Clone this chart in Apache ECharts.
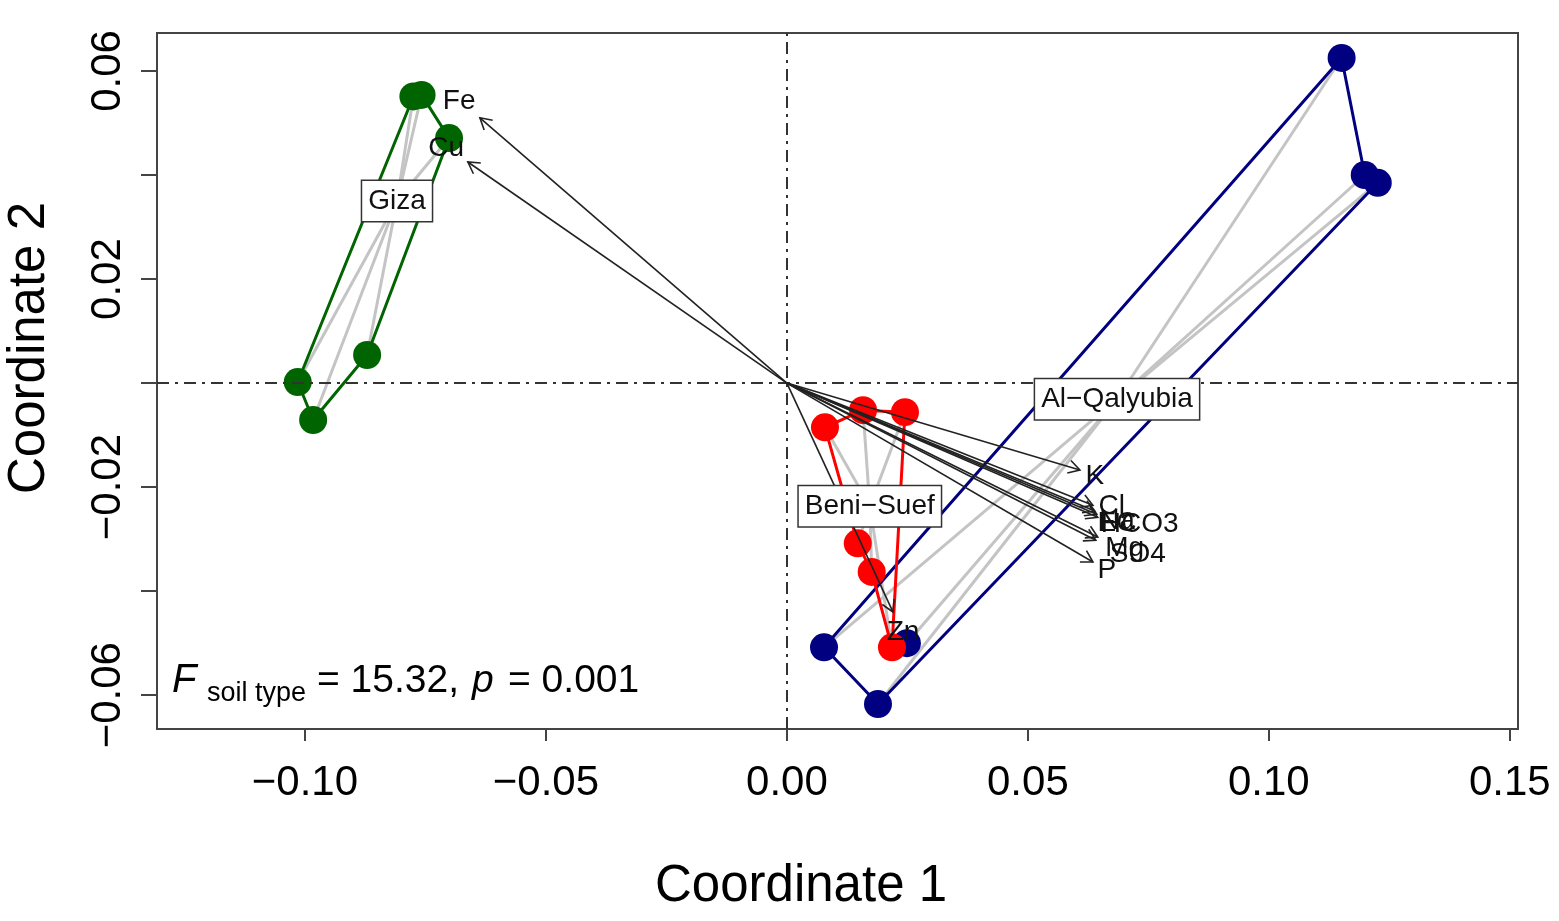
<!DOCTYPE html>
<html>
<head>
<meta charset="utf-8">
<script src="https://cdn.jsdelivr.net/npm/echarts@6/dist/echarts.min.js"></script>
<style>
  html, body { margin: 0; padding: 0; background: #fff; }
  #main { width: 1559px; height: 921px; }
</style>
</head>
<body>
<div id="main"></div>
<script>
// site scores (Coordinate 1, Coordinate 2)
var gizaPts = [[-0.0775, 0.0551], [-0.0758, 0.0554], [-0.0701, 0.0471], [-0.0871, 0.0054], [-0.1015, 0.0002], [-0.0983, -0.0071]];
var beniPts = [[0.0079, -0.0085], [0.0158, -0.0052], [0.0245, -0.0056], [0.0147, -0.0308], [0.0176, -0.0363], [0.0218, -0.0508]];
var qalPts = [[0.1151, 0.0625], [0.1199, 0.0400], [0.1226, 0.0385], [0.0077, -0.0508], [0.0189, -0.0617], [0.0249, -0.0500]];

// hull order (indices into the point arrays)
var gizaHull = [0, 4, 5, 3, 2, 1];
var beniHull = [0, 1, 2, 5, 4, 3];
var qalHull = [3, 0, 1, 2, 4];

// group centroids (spider centres and labels)
var groupNames = ['Giza', 'Beni\u2212Suef', 'Al\u2212Qalyubia'];
var groupCentres = [[-0.0809, 0.0350], [0.0172, -0.0237], [0.0685, -0.0031]];

// fitted soil variables: arrow tips and label positions
var envNames = ['Fe', 'Cu', 'K', 'Cl', 'EC', 'Na', 'HCO3', 'Mg', 'SO4', 'P', 'Zn'];
var envTips = [[-0.0637, 0.0510], [-0.0662, 0.0425], [0.0608, -0.0167], [0.0635, -0.0235], [0.0639, -0.0246],
  [0.0643, -0.0252], [0.0645, -0.0258], [0.0645, -0.0296], [0.0641, -0.0302], [0.0635, -0.0344], [0.0220, -0.0440]];
var envLabelPos = [[-0.0680, 0.0542], [-0.0707, 0.0452], [0.0639, -0.0179], [0.0674, -0.0237], [0.0685, -0.0269],
  [0.0685, -0.0265], [0.0732, -0.0271], [0.0701, -0.0317], [0.0728, -0.0329], [0.0664, -0.0360], [0.0241, -0.0479]];

var xTicks = [-0.10, -0.05, 0.00, 0.05, 0.10, 0.15];
var yTicks = [-0.06, -0.04, -0.02, 0.00, 0.02, 0.04, 0.06];
var yTickLabels = [-0.06, -0.02, 0.02, 0.06];

var FONT = 'Liberation Sans, Arial, sans-serif';
var colGiza = '#006400', colBeni = '#ff0000', colQal = '#000080';

function hullData(pts, order) {
  var d = order.map(function (i) { return pts[i]; });
  d.push(pts[order[0]]);
  return d;
}
function spider(pts, c) {
  return pts.map(function (p) { return { coords: [c, p] }; });
}
function fmt(v) {
  return (v < 0 ? '\u2212' : '') + Math.abs(v).toFixed(2);
}

var chart = echarts.init(document.getElementById('main'));

var option = {
  backgroundColor: '#fff',
  animation: false,
  grid: { left: 157, top: 33, right: 41, bottom: 192, show: true, borderColor: '#444', borderWidth: 2, backgroundColor: 'transparent' },
  xAxis: {
    type: 'value', min: -0.1307, max: 0.1517,
    axisLine: { show: true, onZero: false, lineStyle: { color: '#444', width: 2 } },
    axisTick: { show: true, length: 12, customValues: xTicks, lineStyle: { color: '#444', width: 2 } },
    axisLabel: { customValues: xTicks, formatter: fmt, margin: 33, fontSize: 42, color: '#000', fontFamily: FONT },
    splitLine: { show: false }
  },
  yAxis: {
    type: 'value', min: -0.0665, max: 0.0673,
    axisLine: { show: true, onZero: false, lineStyle: { color: '#444', width: 2 } },
    axisTick: { show: true, length: 16, customValues: yTicks, lineStyle: { color: '#444', width: 2 } },
    axisLabel: { customValues: yTickLabels, formatter: fmt, rotate: 90, margin: 28, fontSize: 42, color: '#000', fontFamily: FONT },
    splitLine: { show: false }
  },
  graphic: [
    { type: 'text', left: 655, top: 861, style: { text: 'Coordinate 1', font: '51px ' + FONT, fill: '#000' } },
    { type: 'text', x: 30, y: 348, rotation: Math.PI / 2, style: { text: 'Coordinate 2', font: '51px ' + FONT, fill: '#000', align: 'center', verticalAlign: 'middle' } },
    { type: 'text', x: 172, y: 681, style: { text: 'F', font: 'italic 40px ' + FONT, fill: '#000', verticalAlign: 'middle' } },
    { type: 'text', x: 207, y: 694, style: { text: 'soil type', font: '27px ' + FONT, fill: '#000', verticalAlign: 'middle' } },
    { type: 'text', x: 317, y: 681, style: { text: '= 15.32,', font: '39px ' + FONT, fill: '#000', verticalAlign: 'middle' } },
    { type: 'text', x: 472, y: 681, style: { text: 'p', font: 'italic 39px ' + FONT, fill: '#000', verticalAlign: 'middle' } },
    { type: 'text', x: 508, y: 681, style: { text: '= 0.001', font: '39px ' + FONT, fill: '#000', verticalAlign: 'middle' } }
  ],
  series: [
    {
      type: 'line', data: [], silent: true, z: 1,
      markLine: {
        symbol: 'none', silent: true, label: { show: false },
        lineStyle: { color: '#333', width: 2, type: [12, 6, 3, 6] },
        data: [{ xAxis: 0 }, { yAxis: 0 }]
      }
    },
    {
      type: 'lines', coordinateSystem: 'cartesian2d', silent: true, z: 2,
      lineStyle: { color: '#c4c4c4', width: 3, opacity: 1 },
      data: spider(gizaPts, groupCentres[0]).concat(spider(beniPts, groupCentres[1]), spider(qalPts, groupCentres[2]))
    },
    { type: 'line', z: 3, data: hullData(qalPts, qalHull), symbol: 'none', lineStyle: { color: colQal, width: 3 } },
    { type: 'line', z: 3, data: hullData(gizaPts, gizaHull), symbol: 'none', lineStyle: { color: colGiza, width: 3 } },
    { type: 'scatter', z: 4, data: qalPts, symbolSize: 28, itemStyle: { color: colQal, opacity: 1 } },
    { type: 'scatter', z: 4, data: gizaPts, symbolSize: 28, itemStyle: { color: colGiza, opacity: 1 } },
    { type: 'line', z: 5, data: hullData(beniPts, beniHull), symbol: 'none', lineStyle: { color: colBeni, width: 3 } },
    { type: 'scatter', z: 5, data: beniPts, symbolSize: 28, itemStyle: { color: colBeni, opacity: 1 } },
    {
      type: 'custom', data: envTips, silent: true, z: 8,
      renderItem: function (params, api) {
        var o = api.coord([0, 0]);
        var t = api.coord([api.value(0), api.value(1)]);
        var a = Math.atan2(t[1] - o[1], t[0] - o[0]);
        var L = 13, w = Math.PI / 6;
        var h1 = [t[0] - L * Math.cos(a - w), t[1] - L * Math.sin(a - w)];
        var h2 = [t[0] - L * Math.cos(a + w), t[1] - L * Math.sin(a + w)];
        var st = { stroke: '#222', lineWidth: 1.6, fill: null };
        return {
          type: 'group', children: [
            { type: 'line', shape: { x1: o[0], y1: o[1], x2: t[0], y2: t[1] }, style: st },
            { type: 'polyline', shape: { points: [h1, t, h2] }, style: st }
          ]
        };
      }
    },
    {
      type: 'custom', data: envLabelPos, silent: true, z: 9,
      renderItem: function (params, api) {
        var p = api.coord([api.value(0), api.value(1)]);
        return {
          type: 'text', x: p[0], y: p[1],
          style: { text: envNames[params.dataIndex], font: '28px ' + FONT, fill: '#111', align: 'center', verticalAlign: 'middle' }
        };
      }
    },
    {
      type: 'custom', data: groupCentres, silent: true, z: 10,
      renderItem: function (params, api) {
        var p = api.coord([api.value(0), api.value(1)]);
        return {
          type: 'text', x: p[0], y: p[1],
          style: {
            text: groupNames[params.dataIndex], font: '28px ' + FONT, fill: '#111', align: 'center', verticalAlign: 'middle',
            backgroundColor: '#fff', borderColor: '#333', borderWidth: 1.5, padding: [7, 6, 5, 6]
          }
        };
      }
    }
  ]
};

chart.setOption(option);
</script>
</body>
</html>
